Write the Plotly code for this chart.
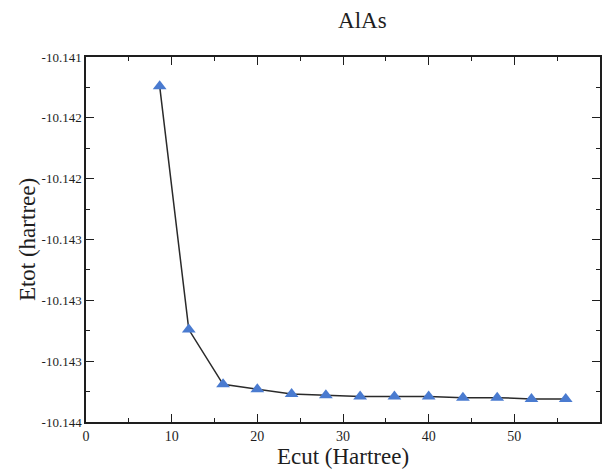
import plotly.graph_objects as go

# Data
ecut = [8.6, 12, 16, 20, 24, 28, 32, 36, 40, 44, 48, 52, 56]
etot = [-10.14124, -10.14324, -10.14369, -10.14373, -10.14377, -10.14378,
        -10.14379, -10.14379, -10.14379, -10.14380, -10.14380, -10.14381, -10.14381]

ytick_vals = [-10.141, -10.1415, -10.142, -10.1425, -10.143, -10.1435, -10.144]
ytick_text = ["-10.141", "-10.142", "-10.142", "-10.143", "-10.143", "-10.143", "-10.144"]
xtick_vals = [0, 10, 20, 30, 40, 50, 60]

serif = "Liberation Serif"
ink = "#1e1e1e"

fig = go.Figure()
fig.add_trace(go.Scatter(
    x=ecut, y=etot, mode="lines+markers",
    line=dict(color="#2a2a2a", width=1.5),
    marker=dict(symbol="triangle-up", size=12, color="#4a7bd0",
                line=dict(width=0)),
    showlegend=False,
))

fig.update_layout(
    width=604, height=471,
    margin=dict(l=86, r=4, t=57, b=49, autoexpand=False),
    paper_bgcolor="white", plot_bgcolor="white",
    title=dict(text="AlAs", x=0.6, xanchor="center", xref="container",
               y=0.957, yanchor="middle", yref="container", automargin=False,
               font=dict(family=serif, size=23, color=ink)),
    font=dict(family=serif, color=ink),
)

fig.update_xaxes(
    range=[0, 60], tickvals=xtick_vals, ticktext=[str(v) for v in xtick_vals],
    ticks="inside", ticklen=8, tickwidth=1, tickcolor=ink,
    minor=dict(dtick=5, tick0=0, ticks="inside", ticklen=4, tickcolor=ink),
    showline=True, linecolor=ink, linewidth=1.5, mirror="allticks",
    showgrid=False, zeroline=False, automargin=False,
    tickfont=dict(family=serif, size=14, color=ink),
    title=dict(text="Ecut (Hartree)", font=dict(family=serif, size=23, color=ink),
               standoff=0),
)
fig.update_yaxes(
    range=[-10.144, -10.141], tickvals=ytick_vals, ticktext=ytick_text,
    ticks="inside", ticklen=8, tickwidth=1, tickcolor=ink,
    minor=dict(dtick=0.00025, tick0=-10.144, ticks="inside", ticklen=4, tickcolor=ink),
    showline=True, linecolor=ink, linewidth=1.5, mirror="allticks",
    showgrid=False, zeroline=False, automargin=False,
    tickfont=dict(family=serif, size=13, color=ink),
    title=dict(text="Etot (hartree)", font=dict(family=serif, size=23, color=ink),
               standoff=0),
)

fig.write_html("out.html", config={"displayModeBar": False},
               post_script="document.body.style.margin='0px';document.body.style.overflow='hidden';")
